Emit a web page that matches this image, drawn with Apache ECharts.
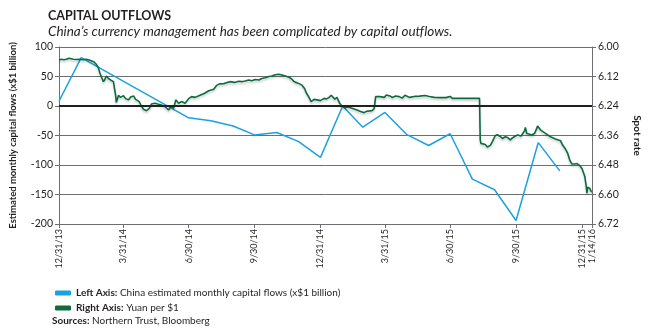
<!DOCTYPE html>
<html>
<head>
<meta charset="utf-8">
<script src="https://cdn.jsdelivr.net/npm/echarts@6/dist/echarts.min.js"></script>
<style>
  html, body { margin: 0; padding: 0; background: #fff; }
  #chart { width: 650px; height: 335px; }
</style>
</head>
<body>
<div id="chart"></div>
<script>
// Quarter-end tick dates shown on the date axis
const tickDates = ['2013-12-31', '2014-03-31', '2014-06-30', '2014-09-30', '2014-12-31',
  '2015-03-31', '2015-06-30', '2015-09-30', '2015-12-31', '2016-01-14'];

// Left axis: estimated monthly capital flows (x$1 billion), month-end readings
const flowDates = ['2013-12-31', '2014-01-31', '2014-06-30', '2014-07-31', '2014-08-31',
  '2014-09-30', '2014-10-31', '2014-11-30', '2014-12-31', '2015-01-31', '2015-02-28',
  '2015-03-31', '2015-04-30', '2015-05-31', '2015-06-30', '2015-07-31', '2015-08-31',
  '2015-09-30', '2015-10-31', '2015-11-30'];
const flowValues = [8, 82, -20, -25, -34, -49, -45, -60, -87, 0, -36, -11, -48, -67,
  -47, -124, -142, -194, -62, -110];

// Right axis: yuan per US dollar
const rateDates = ['2013-12-31', '2014-01-03', '2014-01-07', '2014-01-10', '2014-01-14',
  '2014-01-16', '2014-01-20', '2014-01-24', '2014-01-28', '2014-02-03', '2014-02-07',
  '2014-02-11', '2014-02-14', '2014-02-18', '2014-02-21', '2014-02-24', '2014-02-26',
  '2014-02-28', '2014-03-03', '2014-03-05', '2014-03-07', '2014-03-10', '2014-03-13',
  '2014-03-17', '2014-03-18', '2014-03-20', '2014-03-21', '2014-03-24', '2014-03-27',
  '2014-03-31', '2014-04-03', '2014-04-07', '2014-04-10', '2014-04-14', '2014-04-17',
  '2014-04-22', '2014-04-25', '2014-04-28', '2014-05-02', '2014-05-06', '2014-05-09',
  '2014-05-14', '2014-05-19', '2014-05-23', '2014-05-28', '2014-06-02', '2014-06-05',
  '2014-06-09', '2014-06-12', '2014-06-16', '2014-06-20', '2014-06-25', '2014-06-30',
  '2014-07-04', '2014-07-09', '2014-07-15', '2014-07-21', '2014-07-28', '2014-08-04',
  '2014-08-08', '2014-08-12', '2014-08-18', '2014-08-22', '2014-08-27', '2014-09-02',
  '2014-09-08', '2014-09-12', '2014-09-17', '2014-09-22', '2014-09-26', '2014-10-01',
  '2014-10-06', '2014-10-10', '2014-10-15', '2014-10-20', '2014-10-24', '2014-10-29',
  '2014-11-03', '2014-11-07', '2014-11-12', '2014-11-17', '2014-11-20', '2014-11-24',
  '2014-11-28', '2014-12-02', '2014-12-05', '2014-12-09', '2014-12-11', '2014-12-15',
  '2014-12-18', '2014-12-22', '2014-12-26', '2014-12-31', '2015-01-05', '2015-01-08',
  '2015-01-12', '2015-01-15', '2015-01-16', '2015-01-20', '2015-01-23', '2015-01-27',
  '2015-01-30', '2015-02-03', '2015-02-06', '2015-02-11', '2015-02-16', '2015-02-20',
  '2015-02-25', '2015-03-02', '2015-03-05', '2015-03-09', '2015-03-13', '2015-03-16',
  '2015-03-18', '2015-03-20', '2015-03-24', '2015-03-30', '2015-04-02', '2015-04-07',
  '2015-04-10', '2015-04-15', '2015-04-20', '2015-04-24', '2015-04-28', '2015-05-04',
  '2015-05-11', '2015-05-18', '2015-05-26', '2015-06-01', '2015-06-08', '2015-06-16',
  '2015-06-24', '2015-06-30', '2015-07-03', '2015-07-10', '2015-07-20', '2015-07-31',
  '2015-08-10', '2015-08-11', '2015-08-12', '2015-08-14', '2015-08-18', '2015-08-21',
  '2015-08-25', '2015-08-28', '2015-09-01', '2015-09-04', '2015-09-08', '2015-09-11',
  '2015-09-15', '2015-09-18', '2015-09-22', '2015-09-25', '2015-09-29', '2015-10-02',
  '2015-10-07', '2015-10-12', '2015-10-13', '2015-10-15', '2015-10-19', '2015-10-22',
  '2015-10-26', '2015-10-29', '2015-10-30', '2015-11-03', '2015-11-10', '2015-11-17',
  '2015-11-24', '2015-12-01', '2015-12-04', '2015-12-08', '2015-12-11', '2015-12-14',
  '2015-12-17', '2015-12-21', '2015-12-24', '2015-12-28', '2015-12-31', '2016-01-04',
  '2016-01-05', '2016-01-06', '2016-01-07', '2016-01-08', '2016-01-11', '2016-01-13',
  '2016-01-14'];
const rateValues = [6.053, 6.050, 6.052, 6.050, 6.046,
  6.039, 6.050, 6.051, 6.050, 6.052, 6.050,
  6.053, 6.056, 6.061, 6.070, 6.085, 6.105,
  6.120, 6.141, 6.132, 6.118, 6.128, 6.134,
  6.141, 6.160, 6.195, 6.225, 6.197, 6.205,
  6.198, 6.210, 6.215, 6.203, 6.199, 6.213,
  6.222, 6.240, 6.253, 6.259, 6.250, 6.232,
  6.229, 6.233, 6.236, 6.243, 6.256, 6.243,
  6.249, 6.215, 6.229, 6.222, 6.229, 6.210,
  6.202, 6.205, 6.197, 6.190, 6.178, 6.172,
  6.156, 6.150, 6.149, 6.145, 6.141, 6.144,
  6.139, 6.141, 6.138, 6.134, 6.137, 6.132,
  6.134, 6.128, 6.125, 6.120, 6.118, 6.113,
  6.111, 6.114, 6.118, 6.123, 6.128, 6.140,
  6.145, 6.150, 6.155, 6.170, 6.185, 6.205,
  6.222, 6.213, 6.215, 6.218, 6.209, 6.212,
  6.205, 6.196, 6.191, 6.212, 6.205, 6.230,
  6.240, 6.249, 6.244, 6.247, 6.252, 6.256,
  6.262, 6.267, 6.262, 6.260, 6.259, 6.250,
  6.202, 6.209, 6.202, 6.205, 6.195, 6.199,
  6.205, 6.199, 6.202, 6.208, 6.196, 6.205,
  6.201, 6.200, 6.197, 6.201, 6.205, 6.206,
  6.206, 6.201, 6.209, 6.209, 6.209, 6.209,
  6.209, 6.378, 6.392, 6.395, 6.397, 6.407,
  6.400, 6.385, 6.360, 6.357, 6.364, 6.372,
  6.365, 6.368, 6.378, 6.370, 6.362, 6.358,
  6.362, 6.340, 6.327, 6.352, 6.355, 6.358,
  6.351, 6.330, 6.321, 6.337, 6.351, 6.365,
  6.374, 6.381, 6.399, 6.415, 6.432, 6.460,
  6.476, 6.476, 6.474, 6.483, 6.494, 6.527,
  6.520, 6.568, 6.595, 6.570, 6.575, 6.589,
  6.588];

const FONT = 'Lato, "Open Sans", sans-serif';
const TEXT = '#231f20';
const GRID_LINE = '#6d6e71';

function toTime(s) {
  const p = s.split('-').map(Number);
  return new Date(p[0], p[1] - 1, p[2]).getTime();
}
function fmtDate(t) {
  const d = new Date(Math.round(t));
  return (d.getMonth() + 1) + '/' + d.getDate() + '/' + String(d.getFullYear()).slice(2);
}

const tickTimes = tickDates.map(toTime);
const flowData = flowDates.map((d, i) => [toTime(d), flowValues[i]]);
const rateData = rateDates.map((d, i) => [toTime(d), rateValues[i]]);

const chart = echarts.init(document.getElementById('chart'), null, { renderer: 'canvas' });

chart.setOption({
  animation: false,
  backgroundColor: '#fff',
  textStyle: { fontFamily: FONT },
  title: {
    left: 43, top: 4,
    text: 'CAPITAL OUTFLOWS',
    textStyle: { fontFamily: FONT, fontSize: 12.5, fontWeight: 'bold', color: TEXT },
    subtext: 'China\u2019s currency management has been complicated by capital outflows.',
    subtextStyle: { fontFamily: FONT, fontSize: 13.5, fontStyle: 'italic', color: TEXT },
    itemGap: 3
  },
  grid: { left: 53, right: 54, top: 47, bottom: 111, containLabel: false },
  xAxis: {
    // dates as millisecond timestamps on a linear axis
    type: 'value',
    min: tickTimes[0],
    max: tickTimes[tickTimes.length - 1],
    axisLine: { show: true, onZero: false, lineStyle: { color: GRID_LINE, width: 1 } },
    axisTick: { show: true, length: 4, customValues: tickTimes, lineStyle: { color: GRID_LINE } },
    axisLabel: {
      customValues: tickTimes,
      rotate: 90,
      fontSize: 9,
      color: TEXT,
      margin: 5,
      formatter: v => fmtDate(v)
    },
    splitLine: { show: false }
  },
  yAxis: [
    {
      type: 'value',
      min: -200, max: 100, interval: 50,
      name: 'Estimated monthly capital flows (x$1 billion)',
      nameLocation: 'middle',
      nameRotate: 90,
      nameGap: 41,
      nameTextStyle: { fontFamily: FONT, fontSize: 9.5, fontWeight: 'bold', color: TEXT },
      axisLine: { show: true, lineStyle: { color: GRID_LINE } },
      axisTick: { show: true, length: 4, lineStyle: { color: GRID_LINE } },
      axisLabel: { fontSize: 10.5, color: TEXT, margin: 6 },
      splitLine: { show: true, lineStyle: { color: GRID_LINE, width: 1 } }
    },
    {
      type: 'value',
      min: 6.00, max: 6.72, interval: 0.12,
      inverse: true,
      position: 'right',
      name: 'Spot rate',
      nameLocation: 'middle',
      nameRotate: -90,
      nameGap: 40,
      nameTextStyle: { fontFamily: FONT, fontSize: 10, fontWeight: 'bold', color: TEXT },
      axisLine: { show: true, lineStyle: { color: GRID_LINE } },
      axisTick: { show: true, length: 4, lineStyle: { color: GRID_LINE } },
      axisLabel: { fontSize: 10.5, color: TEXT, margin: 6, formatter: v => v.toFixed(2) },
      splitLine: { show: false }
    }
  ],
  legend: {
    orient: 'vertical',
    left: 50, top: 283,
    itemGap: 5,
    itemWidth: 16, itemHeight: 5,
    icon: 'roundRect',
    data: ['Left Axis', 'Right Axis'],
    textStyle: {
      fontFamily: FONT, fontSize: 10, color: TEXT,
      rich: { b: { fontFamily: FONT, fontSize: 10, fontWeight: 'bold', color: TEXT } }
    },
    formatter: name => name === 'Left Axis'
      ? '{b|Left Axis:} China estimated monthly capital flows (x$1 billion)'
      : '{b|Right Axis:} Yuan per $1'
  },
  graphic: [{
    type: 'text',
    left: 52, top: 316,
    style: {
      text: '{b|Sources:} Northern Trust, Bloomberg',
      fontFamily: FONT, fontSize: 10, fill: TEXT,
      rich: { b: { fontFamily: FONT, fontSize: 10, fontWeight: 'bold', fill: TEXT } }
    }
  }],
  series: [
    {
      // zero reference line on the flows axis
      name: 'zero',
      type: 'line',
      yAxisIndex: 0,
      data: [],
      z: 1,
      markLine: {
        silent: true,
        symbol: 'none',
        label: { show: false },
        lineStyle: { color: '#231f20', width: 2, type: 'solid' },
        data: [{ yAxis: 0 }]
      }
    },
    {
      name: 'Left Axis',
      type: 'line',
      yAxisIndex: 0,
      data: flowData,
      showSymbol: false,
      symbol: 'none',
      z: 3,
      color: '#1ba1e2',
      lineStyle: { color: '#1ba1e2', width: 1.5 }
    },
    {
      name: 'Right Axis',
      type: 'line',
      yAxisIndex: 1,
      data: rateData,
      showSymbol: false,
      symbol: 'none',
      z: 4,
      color: '#0b6b3f',
      lineStyle: {
        color: '#0b6b3f', width: 1.6,
        shadowColor: 'rgba(0,0,0,0.2)', shadowBlur: 2, shadowOffsetY: 2
      }
    }
  ]
});
</script>
</body>
</html>
